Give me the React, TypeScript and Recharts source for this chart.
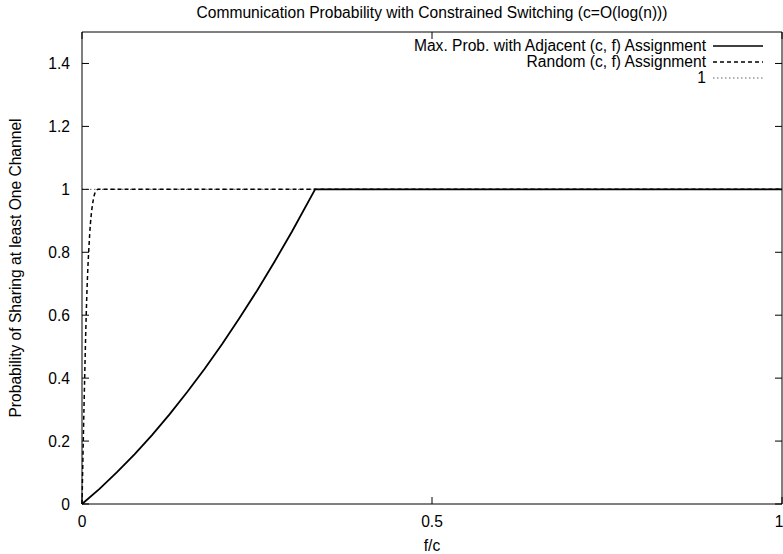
import { LineChart, Line, XAxis, YAxis, Legend } from "recharts";

// f/c values and probabilities
const adjacentX = [0, 0.025, 0.05, 0.075, 0.1, 0.125, 0.15, 0.175, 0.2, 0.225, 0.25, 0.275, 0.3, 0.333, 1];
const adjacentP = [0, 0.048, 0.101, 0.158, 0.219, 0.285, 0.355, 0.429, 0.508, 0.591, 0.678, 0.77, 0.866, 1, 1];

const randomX = [0, 0.002, 0.004, 0.006, 0.008, 0.01, 0.012, 0.014, 0.016, 0.018, 0.02, 0.023, 1];
const randomP = [0, 0.22, 0.42, 0.6, 0.73, 0.82, 0.89, 0.935, 0.965, 0.985, 0.995, 1, 1];

const oneX = [0, 1];
const oneP = [1, 1];

const xTicks = [0, 0.5, 1];
const yTicks = [0, 0.2, 0.4, 0.6, 0.8, 1, 1.2, 1.4];

const legendItems = [
  { label: "Max. Prob. with Adjacent (c, f) Assignment", dash: undefined, color: "#000", width: 1.5 },
  { label: "Random (c, f) Assignment", dash: "4 3", color: "#000", width: 1.5 },
  { label: "1", dash: "1.5 2.5", color: "#666", width: 1 },
];

const FONT = '"Liberation Sans", Arial, Helvetica, sans-serif';
const FS = 15.6;
const toPoints = (xs: number[], ys: number[]) => xs.map((x, i) => ({ x, p: ys[i] }));

const tickStyle = { fill: "#000", fontSize: FS, fontFamily: FONT };
const blank = () => "";

const renderLegend = () => (
  <div style={{ fontFamily: FONT, fontSize: FS, color: "#000" }}>
    {legendItems.map((item) => (
      <div
        key={item.label}
        style={{ display: "flex", justifyContent: "flex-end", alignItems: "center", height: 16, lineHeight: "16px" }}
      >
        <span style={{ whiteSpace: "nowrap" }}>{item.label}</span>
        <svg width={57} height={10} style={{ display: "block" }}>
          <line x1={7} y1={5} x2={57} y2={5} stroke={item.color} strokeWidth={item.width} strokeDasharray={item.dash} />
        </svg>
      </div>
    ))}
  </div>
);

const YLabel = ({ viewBox }: any) => {
  const cy = viewBox ? viewBox.y + viewBox.height / 2 : 266;
  return (
    <text
      x={15}
      y={cy}
      transform={`rotate(-90, 15, ${cy})`}
      textAnchor="middle"
      dominantBaseline="central"
      fontSize={FS}
      fontFamily={FONT}
      fill="#000"
    >
      Probability of Sharing at least One Channel
    </text>
  );
};

export default function App() {
  return (
    <div style={{ position: "absolute", left: 0, top: 0, width: 783, height: 554, background: "#fff" }}>
      <div
        style={{
          position: "absolute",
          left: 82,
          width: 700,
          top: 4,
          lineHeight: "18px",
          textAlign: "center",
          fontFamily: FONT,
          fontSize: FS,
          color: "#000",
        }}
      >
        Communication Probability with Constrained Switching (c=O(log(n)))
      </div>
      <LineChart width={783} height={554} margin={{ top: 31, right: 0, left: 0, bottom: 0 }}>
        <XAxis
          xAxisId="bottom"
          type="number"
          dataKey="x"
          domain={[0, 1]}
          ticks={xTicks}
          height={50}
          stroke="#000"
          tickSize={-7}
          tickMargin={19}
          tick={tickStyle}
          label={{ value: "f/c", position: "insideBottom", offset: 3, style: { fontSize: FS, fontFamily: FONT, fill: "#000" } }}
        />
        <XAxis
          xAxisId="top"
          orientation="top"
          type="number"
          dataKey="x"
          domain={[0, 1]}
          ticks={xTicks}
          height={1}
          stroke="#000"
          tickSize={-7}
          tickMargin={0}
          tickFormatter={blank}
        />
        <YAxis
          yAxisId="left"
          type="number"
          domain={[0, 1.5]}
          ticks={yTicks}
          width={82}
          stroke="#000"
          tickSize={-7}
          tickMargin={19}
          tick={tickStyle}
          label={YLabel}
        />
        <YAxis
          yAxisId="right"
          orientation="right"
          type="number"
          domain={[0, 1.5]}
          ticks={yTicks}
          width={1}
          stroke="#000"
          tickSize={-7}
          tickMargin={0}
          tickFormatter={blank}
        />
        <Legend
          layout="vertical"
          align="center"
          verticalAlign="middle"
          content={renderLegend}
          wrapperStyle={{ top: 38, right: 20, left: "auto", width: "auto" }}
        />
        <Line
          xAxisId="top"
          yAxisId="right"
          data={toPoints(oneX, oneP)}
          dataKey="p"
          name="1"
          type="linear"
          stroke="#666"
          strokeWidth={1}
          strokeDasharray="1.5 2.5"
          dot={false}
          isAnimationActive={false}
        />
        <Line
          xAxisId="bottom"
          yAxisId="left"
          data={toPoints(randomX, randomP)}
          dataKey="p"
          name="Random (c, f) Assignment"
          type="monotone"
          stroke="#000"
          strokeWidth={1.5}
          strokeDasharray="4 3"
          dot={false}
          isAnimationActive={false}
        />
        <Line
          xAxisId="bottom"
          yAxisId="left"
          data={toPoints(adjacentX, adjacentP)}
          dataKey="p"
          name="Max. Prob. with Adjacent (c, f) Assignment"
          type="linear"
          stroke="#000"
          strokeWidth={1.8}
          dot={false}
          isAnimationActive={false}
        />
      </LineChart>
    </div>
  );
}
